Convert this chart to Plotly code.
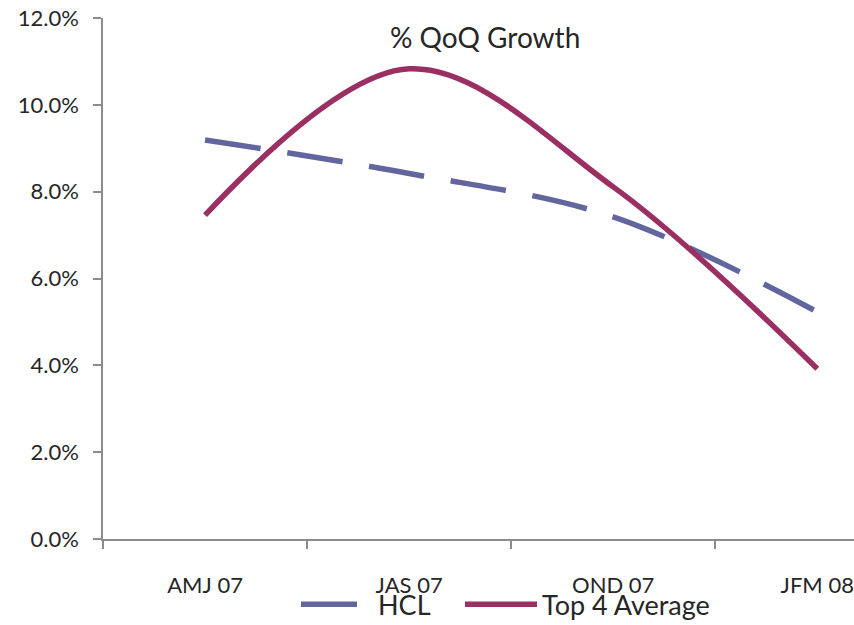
import plotly.graph_objects as go

# Quarterly QoQ growth
quarters = ["AMJ 07", "JAS 07", "OND 07", "JFM 08"]
hcl = [0.0919, 0.0842, 0.0742, 0.0523]
top4_avg = [0.0746, 0.1083, 0.0811, 0.0392]
y_ticks = [0, 0.02, 0.04, 0.06, 0.08, 0.10, 0.12]

FONT = "Lato"
TXT = "#262626"
AXIS = "#8c8c8c"

x_idx = list(range(len(quarters)))

fig = go.Figure()
fig.add_trace(go.Scatter(
    x=x_idx, y=hcl, name="HCL", mode="lines", legendwidth=77,
    line=dict(color="#62659e", width=5.5, dash="56px,27px", shape="spline", smoothing=1.0),
))
fig.add_trace(go.Scatter(
    x=x_idx, y=top4_avg, name="Top 4 Average", mode="lines", legendwidth=200,
    line=dict(color="#9b2f62", width=5.5, shape="spline", smoothing=1.0),
))

fig.update_layout(
    width=854, height=625,
    margin=dict(l=103, r=0, t=18, b=86, autoexpand=False),
    paper_bgcolor="white", plot_bgcolor="white",
    font=dict(family=FONT, size=22, color=TXT),
    showlegend=True,
    legend=dict(
        orientation="h", x=0.257, y=-0.126, xanchor="left", yanchor="middle",
        font=dict(family=FONT, size=27, color=TXT),
        itemwidth=72, tracegroupgap=0, bgcolor="rgba(0,0,0,0)",
    ),
    annotations=[dict(
        text="% QoQ Growth", xref="paper", yref="paper", x=0.509, y=0.9636,
        xanchor="center", yanchor="middle", showarrow=False,
        font=dict(family=FONT, size=28, color=TXT),
    )],
)

fig.update_xaxes(
    range=[-0.5, 3.18], tickmode="array", tickvals=x_idx, ticktext=quarters,
    ticks="outside", ticklen=0, ticklabelstandoff=26,
    showline=True, linecolor=AXIS, linewidth=1.5, showgrid=False, zeroline=False,
    tickfont=dict(family=FONT, size=22, color=TXT),
    minor=dict(tickmode="array", tickvals=[-0.5, 0.5, 1.5, 2.5],
               ticks="outside", ticklen=8, tickcolor=AXIS, tickwidth=1.5, showgrid=False),
    fixedrange=True,
)
fig.update_yaxes(
    range=[0, 0.12], tickmode="array", tickvals=y_ticks, tickformat=".1%",
    ticks="outside", ticklen=8, tickcolor=AXIS, tickwidth=1.5,
    showline=True, linecolor=AXIS, linewidth=1.5, showgrid=False, zeroline=False,
    tickfont=dict(family=FONT, size=22, color=TXT), ticklabelstandoff=10,
    fixedrange=True,
)

fig.write_html("out.html")
